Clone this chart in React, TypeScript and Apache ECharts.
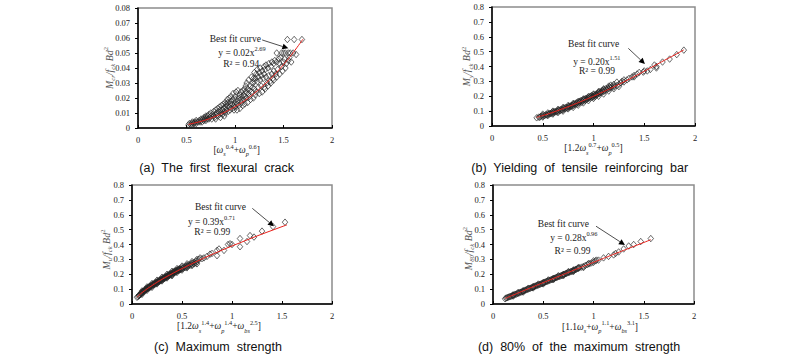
import React, { useEffect, useRef } from 'react';
import * as echarts from 'echarts';

// ---------- DATA ----------
const xTickValues = [0, 0.5, 1, 1.5, 2];

const crackPoints: number[][] = [
  [0.52,0.002],[0.53,0.003],[0.55,0.002],[0.55,0.003],[0.56,0.004],[0.57,0.003],[0.58,0.003],[0.58,0.004],[0.6,0.003],[0.6,0.004],[0.6,0.005],
  [0.62,0.004],[0.63,0.005],[0.64,0.004],[0.65,0.005],[0.65,0.006],[0.66,0.004],[0.67,0.006],[0.68,0.005],[0.68,0.007],[0.69,0.006],[0.7,0.005],[0.7,0.007],[0.7,0.008],
  [0.71,0.006],[0.72,0.008],[0.73,0.006],[0.73,0.009],[0.74,0.007],[0.75,0.008],[0.75,0.01],[0.76,0.006],[0.77,0.009],[0.78,0.008],[0.78,0.011],[0.79,0.007],[0.8,0.009],[0.8,0.012],[0.8,0.006],
  [0.81,0.01],[0.82,0.008],[0.82,0.013],[0.83,0.011],[0.84,0.009],[0.84,0.014],[0.85,0.012],[0.85,0.007],[0.86,0.01],[0.86,0.015],[0.87,0.012],[0.87,0.009],[0.88,0.013],[0.88,0.016],[0.89,0.011],[0.89,0.008],[0.9,0.014],[0.9,0.017],[0.9,0.01],
  [0.91,0.012],[0.91,0.016],[0.92,0.015],[0.92,0.019],[0.93,0.011],[0.93,0.017],[0.94,0.014],[0.94,0.02],[0.95,0.012],[0.95,0.016],[0.96,0.018],[0.96,0.021],[0.97,0.013],[0.97,0.016],[0.98,0.019],[0.98,0.023],[0.99,0.015],[0.99,0.012],[1.0,0.017],[1.0,0.021],[1.0,0.014],
  [1.01,0.019],[1.01,0.024],[1.02,0.016],[1.02,0.012],[1.03,0.018],[1.03,0.025],[1.04,0.02],[1.04,0.015],[1.05,0.022],[1.05,0.013],[1.06,0.019],[1.06,0.024],[1.07,0.021],[1.07,0.017],[1.08,0.025],[1.08,0.015],[1.09,0.022],[1.09,0.019],[1.1,0.026],[1.1,0.016],[1.1,0.021],
  [1.11,0.024],[1.11,0.028],[1.12,0.02],[1.12,0.03],[1.13,0.026],[1.13,0.017],[1.14,0.023],[1.14,0.032],[1.15,0.025],[1.15,0.021],[1.16,0.028],[1.16,0.019],[1.17,0.024],[1.17,0.034],[1.18,0.03],[1.18,0.027],[1.19,0.033],[1.19,0.02],[1.2,0.031],[1.2,0.037],[1.2,0.026],
  [1.21,0.033],[1.21,0.022],[1.22,0.036],[1.22,0.024],[1.23,0.031],[1.23,0.039],[1.24,0.034],[1.24,0.027],[1.25,0.037],[1.25,0.023],[1.26,0.04],[1.26,0.032],[1.27,0.035],[1.27,0.028],[1.28,0.038],[1.28,0.024],[1.29,0.033],[1.3,0.036],[1.3,0.041],[1.3,0.027],
  [1.31,0.039],[1.31,0.026],[1.32,0.034],[1.32,0.042],[1.33,0.03],[1.34,0.04],[1.34,0.028],[1.35,0.035],[1.35,0.043],[1.36,0.031],[1.37,0.041],[1.37,0.03],[1.38,0.036],[1.38,0.044],[1.39,0.033],[1.4,0.043],[1.4,0.038],[1.4,0.032],[1.41,0.045],[1.42,0.036],[1.43,0.044],[1.43,0.05],[1.43,0.034],[1.44,0.039],[1.45,0.046],[1.46,0.036],
  [1.46,0.043],[1.47,0.047],[1.48,0.05],[1.48,0.041],[1.49,0.038],[1.5,0.044],[1.5,0.05],[1.51,0.046],[1.52,0.04],[1.52,0.05],[1.53,0.043],[1.54,0.059],[1.55,0.05],[1.55,0.045],[1.56,0.047],[1.57,0.05],[1.58,0.044],[1.6,0.05],[1.61,0.059],[1.63,0.049],[1.69,0.059],
];
const crackFit: number[][] = [
  [0.52,0.0024],[0.6,0.0036],[0.7,0.0054],[0.8,0.0078],[0.9,0.0107],[1.0,0.0142],[1.1,0.0183],[1.2,0.0232],[1.3,0.0288],[1.4,0.0351],[1.5,0.0423],[1.6,0.0503],[1.7,0.0592],
];

const yieldPoints: number[][] = [
  [0.44,0.055],[0.46,0.06],[0.47,0.058],[0.48,0.065],[0.5,0.066],[0.5,0.072],[0.52,0.07],[0.53,0.076],[0.54,0.074],[0.55,0.08],[0.56,0.078],[0.57,0.085],[0.58,0.082],[0.59,0.09],[0.6,0.086],[0.6,0.095],
  [0.61,0.092],[0.62,0.098],[0.63,0.094],[0.64,0.1],[0.65,0.105],[0.65,0.097],[0.66,0.108],[0.67,0.102],[0.68,0.112],[0.69,0.107],[0.7,0.118],[0.7,0.11],[0.71,0.122],[0.72,0.115],[0.73,0.126],[0.74,0.12],[0.75,0.13],[0.75,0.124],[0.76,0.134],[0.77,0.128],[0.78,0.138],[0.78,0.132],[0.79,0.14],[0.8,0.146],[0.8,0.136],
  [0.81,0.15],[0.82,0.142],[0.83,0.155],[0.83,0.148],[0.84,0.158],[0.85,0.152],[0.86,0.163],[0.86,0.156],[0.87,0.168],[0.88,0.16],[0.88,0.172],[0.89,0.166],[0.9,0.176],[0.9,0.168],[0.91,0.18],[0.92,0.172],[0.92,0.185],[0.93,0.178],[0.94,0.19],[0.94,0.182],[0.95,0.186],[0.96,0.195],[0.96,0.188],[0.97,0.2],[0.98,0.192],[0.98,0.205],[0.99,0.198],[1.0,0.21],[1.0,0.195],[1.0,0.2],
  [1.01,0.205],[1.02,0.214],[1.02,0.2],[1.03,0.21],[1.04,0.22],[1.04,0.212],[1.05,0.225],[1.06,0.218],[1.06,0.23],[1.07,0.224],[1.08,0.235],[1.08,0.226],[1.09,0.24],[1.1,0.232],[1.1,0.245],[1.11,0.236],[1.12,0.25],[1.13,0.242],[1.14,0.255],[1.15,0.25],[1.16,0.262],[1.17,0.256],[1.18,0.265],[1.2,0.262],[1.2,0.27],
  [0.5,0.06],[0.55,0.07],[0.6,0.08],[0.65,0.09],[0.7,0.1],[0.75,0.115],[0.8,0.125],[0.85,0.14],[0.9,0.155],[0.95,0.17],[1.0,0.185],[1.05,0.2],[1.1,0.215],[1.15,0.235],[1.2,0.25],[1.25,0.265],
  [0.5,0.08],[0.55,0.088],[0.6,0.1],[0.65,0.112],[0.7,0.125],[0.75,0.138],[0.8,0.152],[0.85,0.166],[0.9,0.182],[0.95,0.198],[1.0,0.215],[1.05,0.232],[1.1,0.25],[1.15,0.268],[1.17,0.275],[1.2,0.28],
  [1.23,0.295],[1.23,0.272],[1.25,0.28],[1.27,0.29],[1.28,0.3],[1.3,0.31],[1.3,0.296],[1.33,0.31],[1.35,0.32],[1.38,0.33],[1.4,0.34],[1.4,0.33],
  [1.43,0.35],[1.45,0.36],[1.49,0.362],[1.5,0.37],[1.53,0.37],[1.56,0.38],[1.6,0.41],[1.62,0.39],[1.62,0.4],[1.68,0.43],[1.75,0.45],[1.82,0.48],[1.89,0.51],
];
const yieldFit: number[][] = [
  [0.44,0.058],[0.5,0.07],[0.6,0.092],[0.7,0.117],[0.8,0.143],[0.9,0.171],[1.0,0.2],[1.1,0.231],[1.2,0.263],[1.3,0.297],[1.4,0.332],[1.5,0.368],[1.6,0.405],[1.7,0.442],[1.8,0.478],[1.89,0.512],
];

const maxPoints: number[][] = [
  [0.05,0.045],[0.06,0.05],[0.07,0.055],[0.07,0.06],[0.08,0.062],[0.09,0.068],[0.09,0.075],[0.1,0.072],[0.1,0.08],[0.11,0.078],[0.11,0.086],[0.12,0.084],[0.12,0.09],[0.13,0.09],[0.13,0.097],[0.14,0.095],[0.14,0.102],[0.15,0.1],[0.15,0.106],[0.16,0.104],[0.16,0.112],[0.17,0.108],[0.17,0.116],[0.18,0.113],[0.18,0.12],[0.19,0.118],[0.19,0.125],[0.2,0.12],[0.2,0.13],
  [0.21,0.126],[0.21,0.133],[0.22,0.13],[0.22,0.138],[0.23,0.134],[0.23,0.142],[0.24,0.138],[0.24,0.146],[0.25,0.142],[0.25,0.15],[0.26,0.146],[0.26,0.154],[0.27,0.15],[0.27,0.158],[0.28,0.155],[0.28,0.162],[0.29,0.158],[0.29,0.166],[0.3,0.162],[0.3,0.17],[0.31,0.166],[0.31,0.174],[0.32,0.17],[0.32,0.178],[0.33,0.174],[0.33,0.182],[0.34,0.178],[0.34,0.186],[0.35,0.182],[0.35,0.19],[0.36,0.186],[0.36,0.194],[0.37,0.19],[0.37,0.198],[0.38,0.194],[0.38,0.202],[0.39,0.198],[0.39,0.206],[0.4,0.2],[0.4,0.21],[0.4,0.19],
  [0.41,0.205],[0.41,0.214],[0.42,0.21],[0.42,0.218],[0.43,0.212],[0.43,0.222],[0.44,0.216],[0.44,0.225],[0.45,0.22],[0.45,0.228],[0.46,0.224],[0.46,0.232],[0.47,0.226],[0.47,0.235],[0.48,0.23],[0.48,0.238],[0.49,0.234],[0.5,0.236],[0.5,0.245],[0.51,0.24],[0.52,0.25],[0.53,0.244],[0.54,0.254],[0.55,0.25],[0.55,0.26],[0.56,0.255],[0.57,0.265],[0.58,0.26],[0.59,0.27],[0.6,0.264],[0.6,0.275],[0.62,0.27],[0.62,0.28],[0.64,0.275],[0.64,0.29],[0.65,0.285],
  [0.1,0.065],[0.15,0.092],[0.2,0.112],[0.25,0.135],[0.3,0.155],[0.35,0.175],[0.4,0.195],[0.45,0.212],[0.5,0.228],[0.55,0.243],[0.6,0.258],[0.65,0.27],
  [0.1,0.088],[0.15,0.115],[0.2,0.138],[0.25,0.16],[0.3,0.18],[0.35,0.2],[0.4,0.22],[0.45,0.238],[0.5,0.255],[0.55,0.27],[0.6,0.285],[0.65,0.3],[0.68,0.31],
  [0.67,0.3],[0.7,0.305],[0.72,0.31],[0.75,0.32],[0.78,0.335],[0.8,0.34],[0.85,0.36],[0.85,0.325],[0.87,0.37],[0.92,0.36],[0.96,0.4],[0.98,0.405],[1.0,0.4],[1.08,0.44],[1.08,0.385],[1.15,0.42],[1.18,0.46],[1.22,0.45],[1.3,0.49],[1.41,0.52],[1.53,0.55],
];
const maxFit: number[][] = [
  [0.05,0.046],[0.1,0.076],[0.2,0.124],[0.3,0.166],[0.4,0.203],[0.5,0.238],[0.6,0.271],[0.7,0.303],[0.8,0.333],[0.9,0.362],[1.0,0.39],[1.1,0.417],[1.2,0.444],[1.3,0.47],[1.4,0.495],[1.5,0.52],[1.55,0.532],
];

const p80Points: number[][] = [
  [0.12,0.035],[0.13,0.04],[0.14,0.042],[0.15,0.045],[0.16,0.048],[0.17,0.05],[0.18,0.052],[0.19,0.056],[0.2,0.058],[0.2,0.062],[0.21,0.06],[0.22,0.066],[0.23,0.065],[0.24,0.07],[0.25,0.072],[0.26,0.074],[0.27,0.079],[0.28,0.08],[0.29,0.083],[0.3,0.086],[0.3,0.09],
  [0.31,0.088],[0.32,0.093],[0.33,0.095],[0.34,0.098],[0.35,0.1],[0.36,0.104],[0.37,0.105],[0.38,0.109],[0.39,0.11],[0.4,0.114],[0.4,0.118],[0.41,0.116],[0.42,0.121],[0.43,0.122],[0.44,0.126],[0.45,0.127],[0.46,0.131],[0.47,0.133],[0.48,0.136],[0.49,0.138],[0.5,0.141],[0.5,0.145],
  [0.51,0.144],[0.52,0.148],[0.53,0.15],[0.54,0.153],[0.55,0.155],[0.56,0.159],[0.57,0.161],[0.58,0.164],[0.59,0.166],[0.6,0.169],[0.6,0.173],[0.61,0.172],[0.62,0.176],[0.63,0.177],[0.64,0.181],[0.65,0.183],[0.66,0.186],[0.67,0.188],[0.68,0.192],[0.69,0.193],[0.7,0.197],[0.7,0.2],
  [0.71,0.2],[0.72,0.204],[0.73,0.205],[0.74,0.209],[0.75,0.211],[0.76,0.214],[0.77,0.216],[0.78,0.22],[0.79,0.221],[0.8,0.225],[0.8,0.229],[0.81,0.228],[0.82,0.232],[0.83,0.234],[0.84,0.238],[0.85,0.24],[0.86,0.243],[0.88,0.248],[0.9,0.253],[0.92,0.26],[0.94,0.265],[0.96,0.27],[0.98,0.276],[1.0,0.28],
  [0.2,0.053],[0.3,0.08],[0.4,0.108],[0.5,0.135],[0.6,0.163],[0.7,0.19],[0.8,0.218],[0.9,0.245],
  [0.25,0.078],[0.35,0.106],[0.45,0.134],[0.55,0.162],[0.65,0.19],[0.75,0.218],[0.85,0.246],[0.95,0.272],[1.0,0.29],[1.03,0.295],
  [1.02,0.29],[1.05,0.295],[1.1,0.31],[1.15,0.32],[1.2,0.33],[1.22,0.34],[1.25,0.35],[1.3,0.37],[1.35,0.39],[1.4,0.4],[1.47,0.42],[1.57,0.44],
];
const p80Fit: number[][] = [
  [0.12,0.037],[0.2,0.06],[0.4,0.116],[0.6,0.171],[0.8,0.226],[1.0,0.28],[1.2,0.334],[1.4,0.387],[1.57,0.432],
];

const captions = [
  '(a)\u00a0 The\u00a0 first\u00a0 flexural\u00a0 crack',
  '(b)\u00a0 Yielding\u00a0 of\u00a0 tensile\u00a0 reinforcing\u00a0 bar',
  '(c)\u00a0 Maximum\u00a0 strength',
  '(d)\u00a0 80%\u00a0 of\u00a0 the\u00a0 maximum\u00a0 strength',
];
const equations = [
  ['y = 0.02x', '2.69', 'R\u00b2 = 0.94'],
  ['y = 0.20x', '1.51', 'R\u00b2 = 0.99'],
  ['y = 0.39x', '0.71', 'R\u00b2 = 0.99'],
  ['y = 0.28x', '0.96', 'R\u00b2 = 0.99'],
];
const yNames = [
  '{i|M}{sub|cr}{i|/f}{sub|ck}{i| Bd}{sup|2}',
  '{i|M}{sub|y}{i|/f}{sub|ck}{i| Bd}{sup|2}',
  '{i|M}{sub|u}{i|/f}{sub|ck}{i| Bd}{sup|2}',
  '{i|M}{sub|80}{i|/f}{sub|ck}{i| Bd}{sup|2}',
];
const xNames = [
  '{n|[}{i|ω}{sub|s}{sup|0.4}{n|+}{i|ω}{sub|p}{sup|0.6}{n|]}',
  '{n|[1.2}{i|ω}{sub|s}{sup|0.7}{n|+}{i|ω}{sub|p}{sup|0.5}{n|]}',
  '{n|[1.2}{i|ω}{sub|s}{sup|1.4}{n|+}{i|ω}{sub|p}{sup|1.4}{n|+}{i|ω}{sub|bs}{sup|2.5}{n|]}',
  '{n|[1.1}{i|ω}{sub|s}{n|+}{i|ω}{sub|p}{sup|1.1}{n|+}{i|ω}{sub|bs}{sup|3.1}{n|]}',
];

// ---------- LAYOUT ----------
const SERIF = '"Liberation Serif", "Times New Roman", serif';
const SANS = '"Liberation Sans", Arial, sans-serif';

const panels = [
  { points: crackPoints, fit: crackFit, yMax: 0.08, yInt: 0.01,
    grid: { left: 138, top: 8, width: 194, height: 120 },
    best: [1.003, 0.0593], eq: [1.072, 0.0500], r2: [1.064, 0.0427], from: [1.28, 0.0587], to: [1.55, 0.0531],
    xName: [1.017, -0.0147], yNameDx: 29, yNameDy: 0, caption: [216.7, 168] },
  { points: yieldPoints, fit: yieldFit, yMax: 0.8, yInt: 0.1,
    grid: { left: 492, top: 7, width: 203, height: 119 },
    best: [1.002, 0.549], eq: [1.033, 0.428], r2: [1.034, 0.368], from: [1.343, 0.522], to: [1.507, 0.417],
    xName: [1.0, -0.15], yNameDx: 25.5, yNameDy: 0, caption: [579.7, 168] },
  { points: maxPoints, fit: maxFit, yMax: 0.8, yInt: 0.1,
    grid: { left: 132, top: 185, width: 200, height: 119 },
    best: [0.885, 0.654], eq: [0.795, 0.549], r2: [0.803, 0.484], from: [1.203, 0.643], to: [1.42, 0.522],
    xName: [0.87, -0.15], yNameDx: 26, yNameDy: 5, caption: [218, 346.7] },
  { points: p80Points, fit: p80Fit, yMax: 0.8, yInt: 0.1,
    grid: { left: 493, top: 185, width: 201, height: 119 },
    best: [0.701, 0.538], eq: [0.804, 0.442], r2: [0.791, 0.356], from: [1.025, 0.523], to: [1.313, 0.397],
    xName: [1.065, -0.152], yNameDx: 25, yNameDy: 4, caption: [579, 346.7] },
];

// rich text with both sub- and superscripts (main text in the middle)
const richSubSup = (size: number, color: string) => {
  const small = Math.round(size * 0.66 * 10) / 10;
  const L = size + 4;
  return {
    n: { fontFamily: SERIF, fontSize: size, fill: color, color, lineHeight: L },
    i: { fontFamily: SERIF, fontSize: size, fontStyle: 'italic', fill: color, color, lineHeight: L },
    sub: { fontFamily: SERIF, fontSize: small, fontStyle: 'italic', fill: color, color, lineHeight: small, verticalAlign: 'bottom' },
    sup: { fontFamily: SERIF, fontSize: small, fill: color, color, lineHeight: small, verticalAlign: 'top' },
  };
};
// rich text with superscript only (main text at bottom)
const richSup = (size: number, color: string) => {
  const small = Math.round(size * 0.66 * 10) / 10;
  return {
    b: { fontFamily: SERIF, fontSize: size, fill: color, color, lineHeight: size + 2.5, verticalAlign: 'bottom' },
    t: { fontFamily: SERIF, fontSize: small, fill: color, color, lineHeight: small, verticalAlign: 'top' },
  };
};

export default function App() {
  const ref = useRef<HTMLDivElement>(null);
  useEffect(() => {
    if (!ref.current) return;
    const chart = echarts.init(ref.current, undefined, { renderer: 'svg', width: 800, height: 361 });
    const grids: any[] = [];
    const xAxes: any[] = [];
    const yAxes: any[] = [];
    const series: any[] = [];
    panels.forEach((p, i) => {
      grids.push({ ...p.grid, show: true, borderColor: '#8c8c8c', borderWidth: 1.5, backgroundColor: 'transparent' });
      xAxes.push({
        type: 'value', gridIndex: i, min: 0, max: 2, interval: 0.5,
        axisLine: { onZero: false, lineStyle: { color: '#000', width: 1.5 } },
        axisTick: { show: true, inside: true, length: 3, lineStyle: { color: '#000' } },
        axisLabel: { fontFamily: SERIF, fontSize: 8.5, color: '#222', margin: 7,
          formatter: (v: number) => (xTickValues.includes(v) ? String(v) : '') },
        splitLine: { show: false },
      });
      yAxes.push({
        type: 'value', gridIndex: i, min: 0, max: p.yMax, interval: p.yInt,
        axisLine: { onZero: false, lineStyle: { color: '#000', width: 1.5 } },
        axisTick: { show: true, inside: false, length: 3, lineStyle: { color: '#000' } },
        axisLabel: { fontFamily: SERIF, fontSize: 8.5, color: '#222', margin: 8 },
        splitLine: { show: false },
      });
      series.push({
        type: 'scatter', xAxisIndex: i, yAxisIndex: i, data: p.points,
        symbol: 'diamond', symbolSize: [5.5, 6.5],
        itemStyle: { color: 'rgba(255,255,255,0)', borderColor: '#222', borderWidth: 0.85 },
        z: 2, silent: true,
      });
      series.push({
        type: 'line', xAxisIndex: i, yAxisIndex: i, data: p.fit, smooth: true,
        showSymbol: false, symbol: 'none',
        lineStyle: { color: '#e8201a', width: 1 }, z: 3, silent: true,
      });
    });
    chart.setOption({ animation: false, grid: grids, xAxis: xAxes, yAxis: yAxes, series });

    const center = { align: 'center', verticalAlign: 'middle', textAlign: 'center', textVerticalAlign: 'middle' };
    const graphics: any[] = [];
    panels.forEach((p, i) => {
      const toPx = (v: number[]) => chart.convertToPixel({ gridIndex: i } as any, v) as number[];
      const best = toPx(p.best);
      graphics.push({ type: 'text', x: best[0], y: best[1], z: 10,
        style: { text: 'Best fit curve', fontFamily: SERIF, fontSize: 9.5, fill: '#222', ...center } });
      const eq = toPx(p.eq);
      graphics.push({ type: 'text', x: eq[0], y: eq[1] - 1.5, z: 10,
        style: { text: `{b|${equations[i][0]}}{t|${equations[i][1]}}`, fontFamily: SERIF, fontSize: 9.5, fill: '#222', ...center,
          rich: richSup(9.5, '#222') } });
      const r2 = toPx(p.r2);
      graphics.push({ type: 'text', x: r2[0], y: r2[1], z: 10,
        style: { text: equations[i][2], fontFamily: SERIF, fontSize: 9.5, fill: '#222', ...center } });
      const a = toPx(p.from);
      const b = toPx(p.to);
      const dx = b[0] - a[0];
      const dy = b[1] - a[1];
      const len = Math.sqrt(dx * dx + dy * dy);
      const ux = dx / len, uy = dy / len;
      const hl = 6, hw = 3;
      const base = [b[0] - ux * hl, b[1] - uy * hl];
      graphics.push({ type: 'line', z: 10, shape: { x1: a[0], y1: a[1], x2: base[0], y2: base[1] }, style: { stroke: '#222', lineWidth: 0.8 } });
      graphics.push({ type: 'polygon', z: 10, shape: { points: [b, [base[0] - uy * hw, base[1] + ux * hw], [base[0] + uy * hw, base[1] - ux * hw]] }, style: { fill: '#000' } });
      const xn = toPx(p.xName);
      graphics.push({
        type: 'text', x: xn[0], y: xn[1], z: 10,
        style: { text: xNames[i], fontFamily: SERIF, fontSize: 9.5, fill: '#222', ...center, rich: richSubSup(9.5, '#222') },
      });
      graphics.push({
        type: 'text', x: p.grid.left - p.yNameDx, y: p.grid.top + p.grid.height / 2 + p.yNameDy, rotation: Math.PI / 2, z: 10,
        style: { text: yNames[i], fontFamily: SERIF, fontSize: 10, fill: '#555', ...center, rich: richSubSup(10, '#555') },
      });
      graphics.push({
        type: 'text', x: p.caption[0], y: p.caption[1], z: 10,
        style: { text: captions[i], fontFamily: SANS, fontSize: 12.5, fill: '#111', ...center },
      });
    });
    chart.setOption({ graphic: graphics });
    return () => chart.dispose();
  }, []);
  return <div ref={ref} style={{ position: 'absolute', left: 0, top: 0, width: 800, height: 361, background: '#fff' }} />;
}
